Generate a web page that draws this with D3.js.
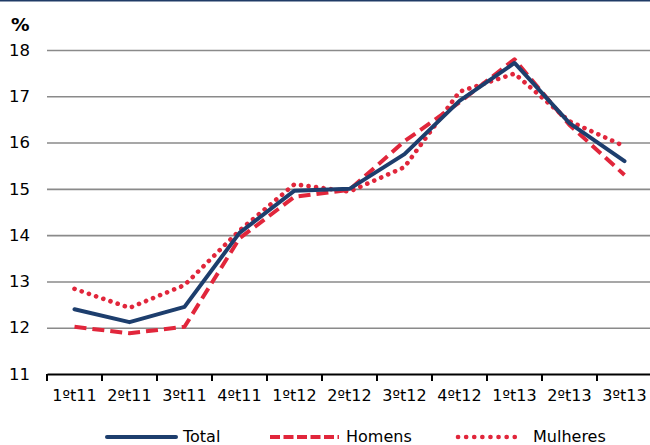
<!DOCTYPE html>
<html>
<head>
<meta charset="utf-8">
<script src="https://cdn.jsdelivr.net/npm/d3@7"></script>
<style>
  body { margin: 0; background: #fff; }
  text { font-family: "DejaVu Sans", Verdana, sans-serif; }
</style>
</head>
<body>
<script>
var w = 650, h = 445;
var margin = { left: 47, right: -2, top: 50, bottom: 71 };

var categories = ["1ºt11", "2ºt11", "3ºt11", "4ºt11", "1ºt12", "2ºt12", "3ºt12", "4ºt12", "1ºt13", "2ºt13", "3ºt13"];
var total    = [12.4, 12.12, 12.45, 14.05, 14.96, 15.0, 15.75, 16.9, 17.72, 16.42, 15.6];
var homens   = [12.02, 11.88, 12.02, 13.93, 14.83, 14.98, 16.03, 16.87, 17.8, 16.38, 15.3];
var mulheres = [12.84, 12.43, 12.92, 14.1, 15.1, 14.94, 15.47, 17.1, 17.49, 16.46, 15.92];
var yTicks = [11, 12, 13, 14, 15, 16, 17, 18];

var navy = "#1d3e6d", red = "#e1263b";

var series = [
  { name: "Total", values: total, color: navy, dash: null, cap: "round", sw: 4 },
  { name: "Homens", values: homens, color: red, dash: "12,6", cap: "butt", sw: 4 },
  { name: "Mulheres", values: mulheres, color: red, dash: "0.1,7.5", cap: "round", sw: 4.6 }
];

var svg = d3.select("body").append("svg").attr("width", w).attr("height", h);

// top border
svg.append("line").attr("x1", 0).attr("x2", w).attr("y1", 0.75).attr("y2", 0.75)
  .attr("stroke", "#1f3b66").attr("stroke-width", 1.5);

var xScale = d3.scaleBand()
  .domain(categories)
  .range([margin.left, w - margin.right])
  .paddingInner(0).paddingOuter(0);

var yScale = d3.scaleLinear()
  .domain([11, 18])
  .range([h - margin.bottom, margin.top]);

// gridlines + y labels
var yAxis = svg.append("g")
  .attr("transform", "translate(" + margin.left + ",0)")
  .call(d3.axisLeft(yScale).tickValues(yTicks).tickSize(-(w - margin.left)).tickPadding(17).tickFormat(d3.format("d")));
yAxis.select(".domain").remove();
yAxis.selectAll(".tick line").attr("stroke", "#8a8a8a").attr("stroke-width", 1.6);
yAxis.selectAll(".tick text").attr("font-size", 16.5).attr("fill", "#000");
yAxis.selectAll(".tick").filter(function (d) { return d === 11; }).select("line").remove();

svg.append("text").attr("x", 11).attr("y", 31).attr("font-size", 18.5).attr("font-weight", "bold").text("%");

// x axis
var xAxis = svg.append("g")
  .attr("transform", "translate(0," + yScale(11) + ")")
  .call(d3.axisBottom(xScale).tickSize(0).tickPadding(16));
xAxis.select(".domain").attr("stroke", "#000").attr("stroke-width", 2);
xAxis.selectAll(".tick text").attr("font-size", 16).attr("fill", "#000");

var edges = categories.map(function (c) { return xScale(c); });
xAxis.selectAll(".edge").data(edges).enter().append("line")
  .attr("x1", function (d) { return d; }).attr("x2", function (d) { return d; })
  .attr("y1", 0).attr("y2", 7)
  .attr("stroke", "#000").attr("stroke-width", 2);

// lines
var line = d3.line()
  .x(function (d, i) { return xScale(categories[i]) + xScale.bandwidth() / 2; })
  .y(function (d) { return yScale(d); });

var order = [series[2], series[1], series[0]];
svg.selectAll(".series").data(order).enter().append("path")
  .attr("d", function (s) { return line(s.values); })
  .attr("fill", "none")
  .attr("stroke", function (s) { return s.color; })
  .attr("stroke-width", function (s) { return s.sw; })
  .attr("stroke-linecap", function (s) { return s.cap; })
  .attr("stroke-linejoin", "round")
  .attr("stroke-dasharray", function (s) { return s.dash; });

// legend
var legendX = [107, 270, 456];
var legend = svg.selectAll(".legend").data(series).enter().append("g")
  .attr("transform", function (d, i) { return "translate(" + legendX[i] + ",437)"; });
legend.append("line")
  .attr("x1", function (d, i) { return i === 2 ? 2 : 0; })
  .attr("x2", function (d, i) { return i === 2 ? 66 : 69; })
  .attr("stroke", function (d) { return d.color; })
  .attr("stroke-width", function (d) { return d.sw; })
  .attr("stroke-linecap", function (d) { return d.cap; })
  .attr("stroke-dasharray", function (d, i) { return i === 1 ? "10,3.5" : i === 2 ? "0.1,8" : null; });
legend.append("text")
  .attr("x", function (d, i) { return i === 2 ? 77 : 76; })
  .attr("y", 5)
  .attr("font-size", 16)
  .text(function (d) { return d.name; });
</script>
</body>
</html>
